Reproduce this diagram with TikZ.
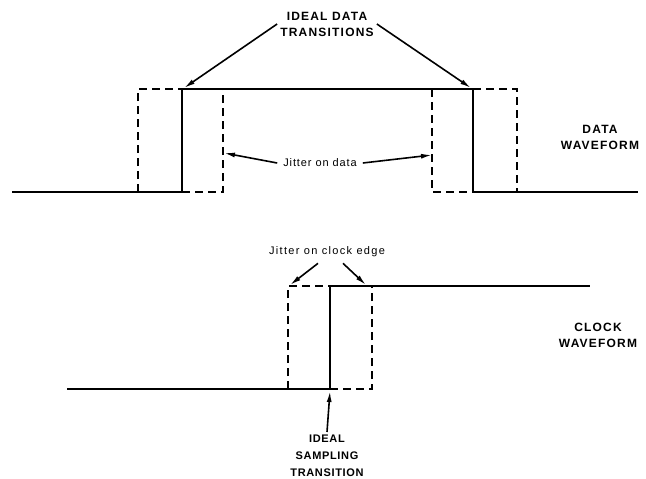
\documentclass[tikz,border=0pt]{standalone}
\usepackage{fontspec}
\setmainfont{Liberation Sans}
\usetikzlibrary{arrows.meta}

\begin{document}
\begin{tikzpicture}[
    x=1pt, y=-1pt,
    wave/.style={line width=1.6pt},
    jitter/.style={line width=1.3pt, dash pattern=on 8pt off 5pt},
    pointer/.style={line width=1.6pt, -{Latex[length=11pt,width=5pt]}},
    caption/.style={
        align=center, inner sep=3pt,
        font=\fontsize{12}{16}\selectfont\bfseries\addfontfeature{LetterSpace=10}
    },
    note/.style={font=\fontsize{11}{13}\selectfont\addfontfeature{LetterSpace=8}, inner sep=6pt}
]

\useasboundingbox (0,0) rectangle (646,479);

% data waveform
\draw[wave]   (12,192) -- (182,192) -- (182,89) -- (473,89) -- (473,192) -- (638,192);
\draw[jitter] (138,192) -- (138,89) -- (182,89);
\draw[jitter] (182,192) -- (223,192) -- (223,89);
\draw[jitter] (432,89) -- (432,192) -- (473,192);
\draw[jitter] (473,89) -- (517,89) -- (517,192);

\coordinate (rise) at (184,88);
\coordinate (fall) at (471,88);
\coordinate (jitL) at (224,153);
\coordinate (jitR) at (432,155);

% clock waveform
\draw[wave]   (67,389) -- (330,389) -- (330,286) -- (590,286);
\draw[jitter] (288,389) -- (288,286) -- (330,286);
\draw[jitter] (330,389) -- (372,389) -- (372,286);

\coordinate (ckL)  at (290,285);
\coordinate (ckR)  at (366,285);
\coordinate (samp) at (330,391);

\node[caption] (ideal) at (327,24)  {IDEAL DATA\\TRANSITIONS};
\node[note]    (djit)  at (320,163) {Jitter on data};
\node[caption] (dwave) at (600,137) {DATA\\WAVEFORM};
\node[note, font=\fontsize{11}{13}\selectfont\addfontfeature{LetterSpace=12}]
               (cjit)  at (327,252) {Jitter on clock edge};
\node[caption] (cwave) at (598,335) {CLOCK\\WAVEFORM};
\node[caption, font=\fontsize{11}{17}\selectfont\bfseries\addfontfeature{LetterSpace=6}]
               (isamp) at (327,456) {IDEAL\\SAMPLING\\TRANSITION};

\draw[pointer] (ideal.west) -- (rise);
\draw[pointer] (ideal.east) -- (fall);
\draw[pointer] (djit.west) -- (jitL);
\draw[pointer] (djit.east) -- (jitR);
\draw[pointer] ([xshift=-9pt]cjit.south) -- (ckL);
\draw[pointer] ([xshift=16pt]cjit.south) -- (ckR);
\draw[pointer] (isamp.north) -- (samp);

\end{tikzpicture}
\end{document}
